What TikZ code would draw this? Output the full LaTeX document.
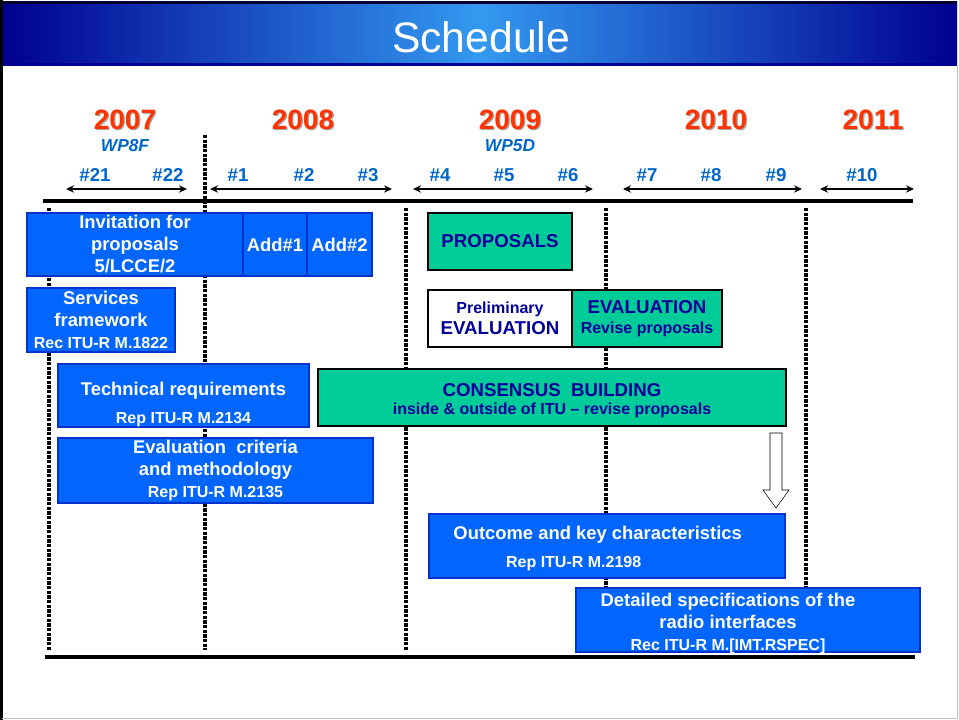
\documentclass[tikz,border=0pt]{standalone}
\usepackage{fontspec}
\setmainfont{Liberation Sans}
\usetikzlibrary{arrows.meta}
\definecolor{hdrdark}{HTML}{000090}
\definecolor{hdrlight}{HTML}{3399F0}
\definecolor{hdredge}{HTML}{000033}
\definecolor{yearred}{HTML}{FF3300}
\definecolor{meetblue}{HTML}{0066CC}
\definecolor{boxblue}{HTML}{0066FF}
\definecolor{boxedge}{HTML}{0033CC}
\definecolor{boxgreen}{HTML}{00CC99}
\definecolor{navytext}{HTML}{000099}
\newcommand\reffont{\fontsize{12}{14.5}\selectfont}
\tikzset{wh/.style 2 args={minimum width=#1*0.75pt, minimum height=#2*0.75pt},
         bluebox/.style={draw=boxedge, fill=boxblue, line width=2pt, text=white,
           font=\bfseries\fontsize{13.8}{16.5}\selectfont, align=center,
           inner sep=0pt, outer sep=0pt, anchor=north west},
         greenbox/.style={draw=black, fill=boxgreen, line width=2.2pt, text=navytext,
           font=\bfseries\fontsize{14}{16}\selectfont, align=center,
           inner sep=0pt, outer sep=0pt, anchor=north west},
         boxtext/.style={text=white, font=\bfseries\fontsize{13.8}{16.5}\selectfont, align=center},
         titletext/.style={text=white, font=\fontsize{32}{36}\selectfont},
         yeartext/.style={text=yearred, font=\bfseries\fontsize{21}{24}\selectfont},
         wptext/.style={text=meetblue, font=\bfseries\itshape\fontsize{13}{15}\selectfont},
         meeting/.style={text=meetblue, font=\bfseries\fontsize{14}{16}\selectfont},
         span/.style={line width=1.6pt, {Stealth[length=6pt,width=5.5pt]}-{Stealth[length=6pt,width=5.5pt]}},
         divider/.style={line width=2.5pt, dash pattern=on 2.4pt off 1.1pt}}

\begin{document}
\begin{tikzpicture}[x=0.75pt, y=-0.75pt]
  \useasboundingbox (0,0) rectangle (959,720);
  % title bar and frame
  \shade[left color=hdrdark, right color=hdrdark, middle color=hdrlight] (2,2) rectangle (957,66);
  \draw[line width=2pt, hdredge] (2,2.5) -- (957,2.5);
  \draw[line width=2.5pt, hdrdark] (2,64.5) -- (957,64.5);
  \draw[line width=2.2pt] (1.5,0) -- (1.5,720);
  \draw[line width=1.2pt, black!25] (1.5,718.5) -- (957.5,718.5) -- (957.5,66);
  \node[titletext] (title) at (481,37) {Schedule};

  % years, working parties, meetings
  \foreach \yr/\x in {2007/125, 2008/303, 2009/510, 2010/716, 2011/873} {
    \node[yeartext, text=black!35] (s\yr) at (\x+1.2,121.2) {\yr};
    \node[yeartext] (y\yr) at (\x,120) {\yr};
  }
  \node[wptext] (wp8f) at (125,146) {WP8F};
  \node[wptext] (wp5d) at (510,146) {WP5D};
  \foreach \n/\x in {21/95, 22/168, 1/238, 2/304, 3/368, 4/440, 5/504, 6/568, 7/647, 8/711, 9/776, 10/862}
    \node[meeting] (m\n) at (\x,175) {\#\n};
  \foreach \a/\b in {66/187, 210/392, 413/593, 623/802, 820/914}
    \draw[span] (\a,189) -- (\b,189);

  % year dividers and time axis
  \foreach \x/\t/\b in {49/208/650, 205/135/650, 406/208/650, 606/208/650, 806/208/587}
    \draw[divider] (\x,\t) -- (\x,\b);
  \draw[line width=2.4pt] (43,201) -- (913,201);
  \draw[line width=2.4pt] (45,657) -- (915,657);

  % ITU-R work items
  \node[bluebox, wh={216}{63}] (invite) at (27,213) {Invitation for\\proposals\\5/LCCE/2};
  \node[bluebox, wh={64}{63}] (add1) at (243,213) {Add\#1};
  \node[bluebox, wh={65}{63}] (add2) at (307,213) {Add\#2};
  \node[bluebox, wh={148}{64}] (services) at (27,288) {Services\\framework\\\reffont Rec ITU-R M.1822};
  \node[bluebox, wh={251}{63}] (techreq) at (58,364) {};
  \node[boxtext] (techreqtxt) at ([yshift=-7pt]techreq.center) {Technical requirements\\[4.5pt]\reffont Rep ITU-R M.2134};
  \node[bluebox, wh={315}{65}] (evalcrit) at (58,438) {Evaluation\ \ criteria\\and methodology\\\reffont Rep ITU-R M.2135};

  \node[greenbox, wh={144}{57}] (proposals) at (428,213) {PROPOSALS};
  \node[greenbox, fill=white, wh={144}{57}] (prelim) at (428,290) {{\fontsize{12}{16}\selectfont Preliminary}\\EVALUATION};
  \node[greenbox, wh={150}{57}] (evalrev) at (572,290) {EVALUATION\\[-1pt]{\fontsize{12}{15}\selectfont Revise proposals}};
  \node[greenbox, wh={468}{57}] (consensus) at (318,369) {};
  \node[greenbox, draw=none, fill=none, anchor=center] (consensustxt) at ([yshift=-2pt]consensus.center)
    {CONSENSUS\ \ BUILDING\\[-2.5pt]{\fontsize{12}{14}\selectfont inside \& outside of ITU -- revise proposals}};

  \draw[fill=white, thin] (770,433) -- (782,433) -- (782,490) -- (789,490) -- (776,508)
    -- (763,490) -- (770,490) -- cycle;

  \node[bluebox, wh={356}{64}] (outcome) at (429,514) {};
  \node[boxtext] (outcometxt) at ([xshift=-7pt,yshift=-2pt]outcome.center) {Outcome and key characteristics\\[4.5pt]\hspace*{-36pt}\reffont Rep ITU-R M.2198};
  \node[bluebox, wh={344}{64}] (detailed) at (576,588) {};
  \node[boxtext] (detailedtxt) at ([xshift=-15pt,yshift=-2.5pt]detailed.center) {Detailed specifications of the\\radio interfaces\\\reffont Rec ITU-R M.[IMT.RSPEC]};
\end{tikzpicture}
\end{document}
